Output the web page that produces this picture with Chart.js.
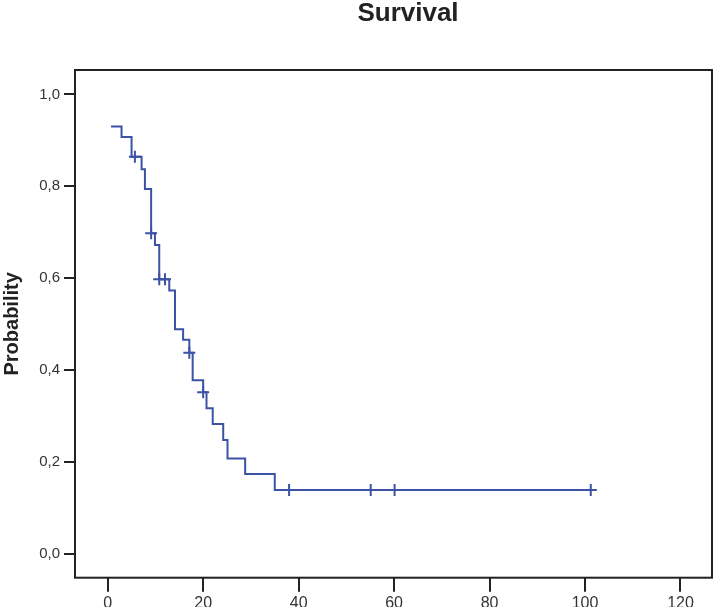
<!DOCTYPE html>
<html>
<head>
<meta charset="utf-8">
<script src="https://cdn.jsdelivr.net/npm/chart.js@4"></script>
<style>
body{margin:0;background:#fff;}
#wrap{width:713px;height:607px;position:relative;}
</style>
</head>
<body>
<div id="wrap"><canvas id="chart"></canvas></div>
<script>
// step curve: time of each step and survival level from there on
let stepTimes = [0.7, 2.9, 5.0, 7.1, 7.8, 9.1, 9.9, 10.8, 12.9, 14.1, 15.8, 17.1, 17.8, 20.0, 20.7, 22.0, 24.2, 25.1, 28.8, 35.0, 101.2];
let stepProb  = [0.93, 0.907, 0.864, 0.837, 0.794, 0.698, 0.672, 0.598, 0.573, 0.489, 0.466, 0.438, 0.378, 0.352, 0.317, 0.283, 0.248, 0.208, 0.174, 0.139, 0.139];

// censored cases
let censorTimes = [5.7, 9.1, 10.8, 12.0, 17.1, 20.0, 38.0, 55.1, 60.1, 101.2];
let censorProb  = [0.864, 0.698, 0.598, 0.598, 0.438, 0.352, 0.139, 0.139, 0.139, 0.139];

let xTicks = [0, 20, 40, 60, 80, 100, 120];
let yTicks = [0, 0.2, 0.4, 0.6, 0.8, 1.0];

let blue = "#3b52a5";
let dark = "#222222";

// =====================
// box + title
// =====================
let frame = {
id:"frame",
afterDraw(c){
let ctx = c.ctx, a = c.chartArea;
ctx.save();
ctx.strokeStyle = dark;
ctx.lineWidth = 2;
ctx.strokeRect(a.left, a.top, a.right - a.left, a.bottom - a.top);
ctx.fillStyle = dark;
ctx.font = 'bold 26px "Liberation Sans", Arial, sans-serif';
ctx.textAlign = "center";
ctx.fillText("Survival", 408, 21);
ctx.restore();
}
};

new Chart(document.getElementById("chart"),{
type:"line",
data:{
datasets:[{
label:"Survival",
data:stepTimes.map((t,i)=>({x:t, y:stepProb[i]})),
stepped:true,
borderColor:blue,
borderWidth:2,
pointRadius:0,
fill:false
},{
label:"Censored",
data:censorTimes.map((t,i)=>({x:t, y:censorProb[i]})),
showLine:false,
pointStyle:"cross",
pointRadius:6,
borderColor:blue,
borderWidth:2
}]
},
options:{
responsive:true,
maintainAspectRatio:false,
animation:false,
layout:{autoPadding:false, padding:{top:70, right:1, bottom:0, left:0}},
plugins:{legend:{display:false}, tooltip:{enabled:false}, title:{display:false}},
scales:{
x:{
type:"linear",
min:-6.85,
max:126.6,
afterBuildTicks(s){ s.ticks = xTicks.map(v=>({value:v})); },
afterFit(s){ s.height = 29.3; s.paddingLeft = 0; s.paddingRight = 0; },
border:{display:false},
grid:{drawOnChartArea:false, drawTicks:true, tickLength:14, color:dark, lineWidth:2},
ticks:{color:"#333", font:{family:'"Liberation Sans", Arial', size:16}, padding:2, maxRotation:0}
},
y:{
type:"linear",
min:-0.0516,
max:1.053,
afterBuildTicks(s){ s.ticks = yTicks.map(v=>({value:v})); },
afterFit(s){ s.width = 75; s.paddingTop = 0; s.paddingBottom = 0; },
border:{display:false},
grid:{drawOnChartArea:false, drawTicks:true, tickLength:11, color:dark, lineWidth:2},
ticks:{
color:"#333",
font:{family:'"Liberation Sans", Arial', size:15},
padding:4,
callback:v=>v.toFixed(1).replace(".", ",")
},
title:{display:true, text:"Probability", color:dark, font:{family:'"Liberation Sans", Arial', size:20, weight:"bold"}, padding:0}
}
}
},
plugins:[frame]
});
</script>
</body>
</html>
